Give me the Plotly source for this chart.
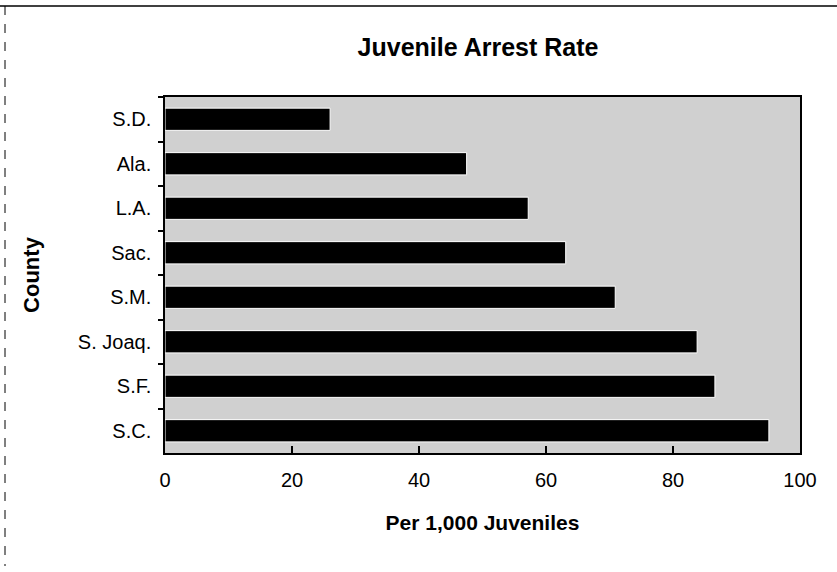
import plotly.graph_objects as go

counties = ["S.D.", "Ala.", "L.A.", "Sac.", "S.M.", "S. Joaq.", "S.F.", "S.C."]
rates = [26.0, 47.5, 57.2, 63.1, 70.9, 83.8, 86.6, 95.1]
x_ticks = [0, 20, 40, 60, 80, 100]

FONT = "Liberation Sans, Arial, sans-serif"

fig = go.Figure(
    go.Bar(
        x=rates,
        y=counties,
        orientation="h",
        width=0.5,
        marker=dict(color="#000000", line=dict(color="#ffffff", width=1)),
    )
)

W, H = 837, 572
L, R, T, B = 165, 37, 97, 119
pw, ph = W - L - R, H - T - B

def px_x(p):
    return (p - L) / pw

def px_y(p):
    return (H - B - p) / ph

fig.update_layout(
    width=W,
    height=H,
    margin=dict(l=L, r=R, t=T, b=B),
    paper_bgcolor="white",
    plot_bgcolor="#d0d0d0",
    font=dict(family=FONT, color="black", size=20),
    showlegend=False,
    title=dict(
        text="<b>Juvenile Arrest Rate</b>",
        font=dict(size=25, family=FONT),
        x=px_x(478), xref="paper", xanchor="center",
        y=1 - 47 / H, yref="container", yanchor="middle",
    ),
    xaxis=dict(
        range=[0, 100],
        tickvals=x_ticks,
        ticks="inside",
        ticklen=7,
        tickwidth=1.5,
        tickcolor="black",
        showline=True,
        linecolor="black",
        linewidth=1.5,
        mirror=True,
        showgrid=False,
        zeroline=False,
        tickfont=dict(size=20),
        ticklabelstandoff=8,
        title=dict(text="<b>Per 1,000 Juveniles</b>", font=dict(size=21), standoff=26),
    ),
    yaxis=dict(
        categoryorder="array",
        categoryarray=counties,
        autorange="reversed",
        ticks="outside",
        tickson="boundaries",
        ticklen=5,
        tickwidth=1.5,
        tickcolor="black",
        showline=True,
        linecolor="black",
        linewidth=1.5,
        mirror=True,
        showgrid=False,
        tickfont=dict(size=20),
        ticklabelstandoff=8,
        title=dict(text="<b>County</b>", font=dict(size=22), standoff=32),
    ),
    shapes=[
        dict(type="line", xref="paper", yref="paper",
             x0=px_x(0), x1=px_x(837), y0=px_y(6), y1=px_y(6),
             line=dict(color="black", width=1.5)),
        dict(type="line", xref="paper", yref="paper",
             x0=px_x(5), x1=px_x(5), y0=px_y(6), y1=px_y(566),
             line=dict(color="black", width=1, dash="dash")),
    ],
)

fig.write_html("out.html")
